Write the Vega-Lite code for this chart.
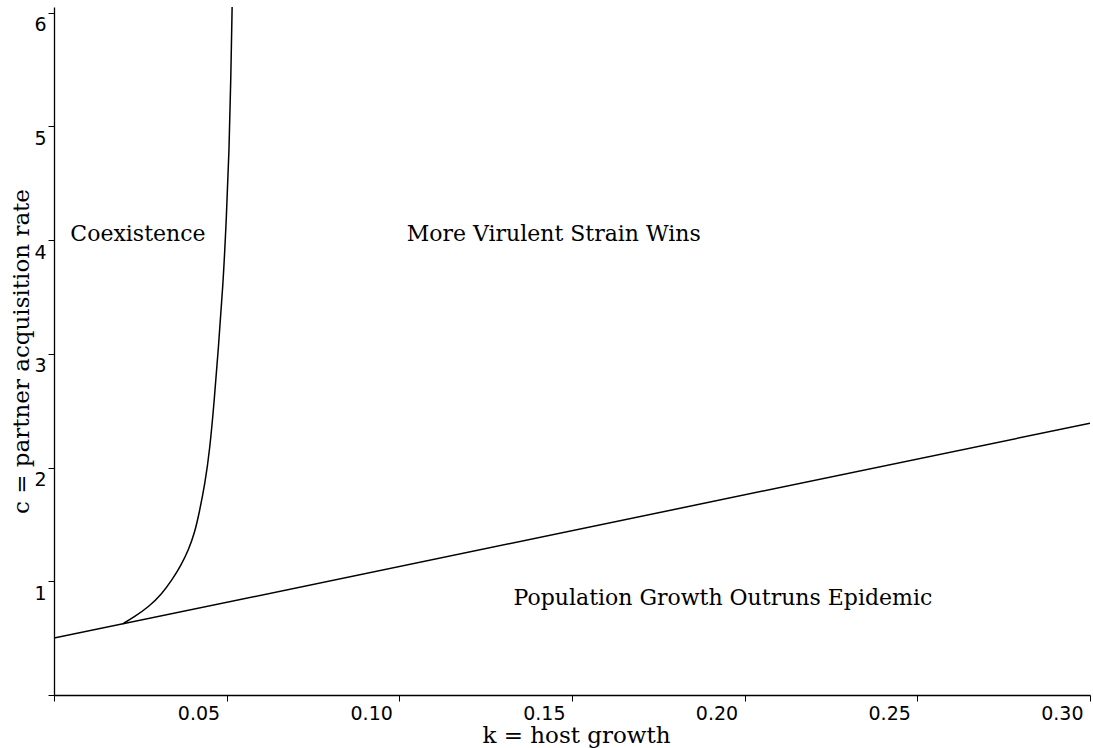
{
  "$schema": "https://vega.github.io/schema/vega-lite/v6.json",
  "autosize": {"type": "none"},
  "padding": {"left": 54, "top": 7, "right": 3, "bottom": 53},
  "width": 1036,
  "height": 688,
  "background": "white",
  "config": {"view": {"stroke": null}},
  "datasets": {
    "curves": [
      {"series": "threshold", "k": 0.0, "c": 0.5},
      {"series": "threshold", "k": 0.3, "c": 2.39},
      {"series": "coexistence", "k": 0.01986, "c": 0.625},
      {"series": "coexistence", "k": 0.02321, "c": 0.686},
      {"series": "coexistence", "k": 0.02751, "c": 0.777},
      {"series": "coexistence", "k": 0.03123, "c": 0.889},
      {"series": "coexistence", "k": 0.03418, "c": 1.012},
      {"series": "coexistence", "k": 0.03668, "c": 1.135},
      {"series": "coexistence", "k": 0.03897, "c": 1.276},
      {"series": "coexistence", "k": 0.04069, "c": 1.425},
      {"series": "coexistence", "k": 0.04183, "c": 1.569},
      {"series": "coexistence", "k": 0.04375, "c": 1.862},
      {"series": "coexistence", "k": 0.04513, "c": 2.164},
      {"series": "coexistence", "k": 0.04642, "c": 2.595},
      {"series": "coexistence", "k": 0.04756, "c": 3.035},
      {"series": "coexistence", "k": 0.049, "c": 3.624},
      {"series": "coexistence", "k": 0.04994, "c": 4.208},
      {"series": "coexistence", "k": 0.05072, "c": 4.795},
      {"series": "coexistence", "k": 0.0512, "c": 5.41},
      {"series": "coexistence", "k": 0.05158, "c": 6.05}
    ],
    "labels": [
      {"text": "Coexistence", "k": 0.0243, "c": 4.05},
      {"text": "More Virulent Strain Wins", "k": 0.1447, "c": 4.05},
      {"text": "Population Growth Outruns Epidemic", "k": 0.1937, "c": 0.853}
    ]
  },
  "encoding": {
    "x": {
      "field": "k",
      "type": "quantitative",
      "scale": {"domain": [0, 0.3], "nice": false, "zero": false},
      "axis": {
        "values": [0, 0.05, 0.1, 0.15, 0.2, 0.25, 0.3],
        "labelExpr": "datum.value == 0 ? '' : format(datum.value, '.2f')",
        "grid": false,
        "tickSize": 6,
        "tickColor": "black",
        "tickWidth": 1,
        "domainColor": "black",
        "domainWidth": 1.3,
        "labelFont": "DejaVu Sans",
        "labelFontSize": 19,
        "labelColor": "black",
        "labelAlign": "right",
        "labelBaseline": "top",
        "labelPadding": 3,
        "labelOffset": -7,
        "labelOverlap": false,
        "labelFlush": false,
        "labelBound": false,
        "title": "k = host growth",
        "titleFont": "DejaVu Serif",
        "titleFontSize": 23,
        "titleFontWeight": "normal",
        "titleColor": "black",
        "titleX": 522,
        "titleY": 47,
        "titleBaseline": "alphabetic",
        "titleAlign": "center"
      }
    },
    "y": {
      "field": "c",
      "type": "quantitative",
      "scale": {"domain": [0, 6.05], "nice": false},
      "axis": {
        "values": [0, 1, 2, 3, 4, 5, 6],
        "labelExpr": "datum.value == 0 ? '' : datum.label",
        "grid": false,
        "tickSize": 6,
        "tickColor": "black",
        "tickWidth": 1,
        "domainColor": "black",
        "domainWidth": 1.3,
        "labelFont": "DejaVu Sans",
        "labelFontSize": 19,
        "labelColor": "black",
        "labelAlign": "right",
        "labelBaseline": "top",
        "labelPadding": 2,
        "labelOffset": 3,
        "labelOverlap": false,
        "labelFlush": false,
        "labelBound": false,
        "title": "c = partner acquisition rate",
        "titleFont": "DejaVu Serif",
        "titleFontSize": 23,
        "titleFontWeight": "normal",
        "titleColor": "black",
        "titleAngle": 270,
        "titleX": -26,
        "titleY": 344,
        "titleBaseline": "alphabetic",
        "titleAlign": "center"
      }
    }
  },
  "layer": [
    {
      "data": {"name": "curves"},
      "mark": {"type": "line", "color": "black", "strokeWidth": 1.5, "clip": true, "interpolate": "basis"},
      "encoding": {"detail": {"field": "series", "type": "nominal"}}
    },
    {
      "data": {"name": "labels"},
      "mark": {"type": "text", "font": "DejaVu Serif", "fontSize": 22, "color": "black", "align": "center", "baseline": "middle"},
      "encoding": {"text": {"field": "text", "type": "nominal"}}
    }
  ]
}
